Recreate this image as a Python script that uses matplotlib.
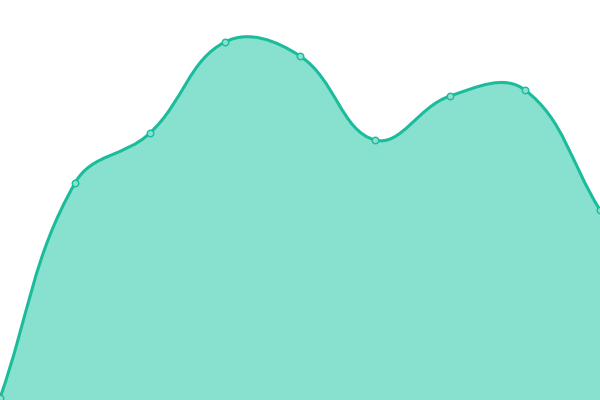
import matplotlib
matplotlib.use("Agg")
import matplotlib.pyplot as plt
import numpy as np
from matplotlib.path import Path
from matplotlib.patches import PathPatch

# values (pixel height from bottom)
x_vals = [0, 75, 150, 225, 300, 375, 450, 525, 600]
y_vals = [2, 217, 267, 358, 344, 260, 304, 310, 190]

line_color = "#1abc9c"
fill_color = "#88e0cf"
tension = 0.4


def spline_controls(xs, ys, t):
    pts = np.column_stack([xs, ys]).astype(float)
    n = len(pts)
    cps = []
    for i in range(n):
        prev = pts[max(i - 1, 0)]
        cur = pts[i]
        nxt = pts[min(i + 1, n - 1)]
        d01 = np.hypot(*(cur - prev))
        d12 = np.hypot(*(nxt - cur))
        tot = d01 + d12
        s01 = d01 / tot if tot else 0
        s12 = d12 / tot if tot else 0
        before = cur - t * s01 * (nxt - prev)
        after = cur + t * s12 * (nxt - prev)
        cps.append((before, after))
    return pts, cps


pts, cps = spline_controls(x_vals, y_vals, tension)
verts = [tuple(pts[0])]
codes = [Path.MOVETO]
for i in range(1, len(pts)):
    verts += [tuple(cps[i - 1][1]), tuple(cps[i][0]), tuple(pts[i])]
    codes += [Path.CURVE4] * 3

fig = plt.figure(figsize=(6, 4), dpi=100)
ax = fig.add_axes([0, 0, 1, 1])
ax.set_xlim(0, 600)
ax.set_ylim(0, 400)
ax.axis("off")

fill_verts = verts + [(x_vals[-1], 0), (x_vals[0], 0), verts[0]]
fill_codes = codes + [Path.LINETO, Path.LINETO, Path.CLOSEPOLY]
ax.add_patch(PathPatch(Path(fill_verts, fill_codes), facecolor=fill_color,
                       edgecolor="none"))
ax.add_patch(PathPatch(Path(verts, codes), facecolor="none",
                       edgecolor=line_color, linewidth=2.2))
ax.scatter(x_vals, y_vals, s=22, facecolor=fill_color, edgecolor=line_color,
           linewidth=1, zorder=3, clip_on=True)

fig.savefig("out.png", dpi=100)
